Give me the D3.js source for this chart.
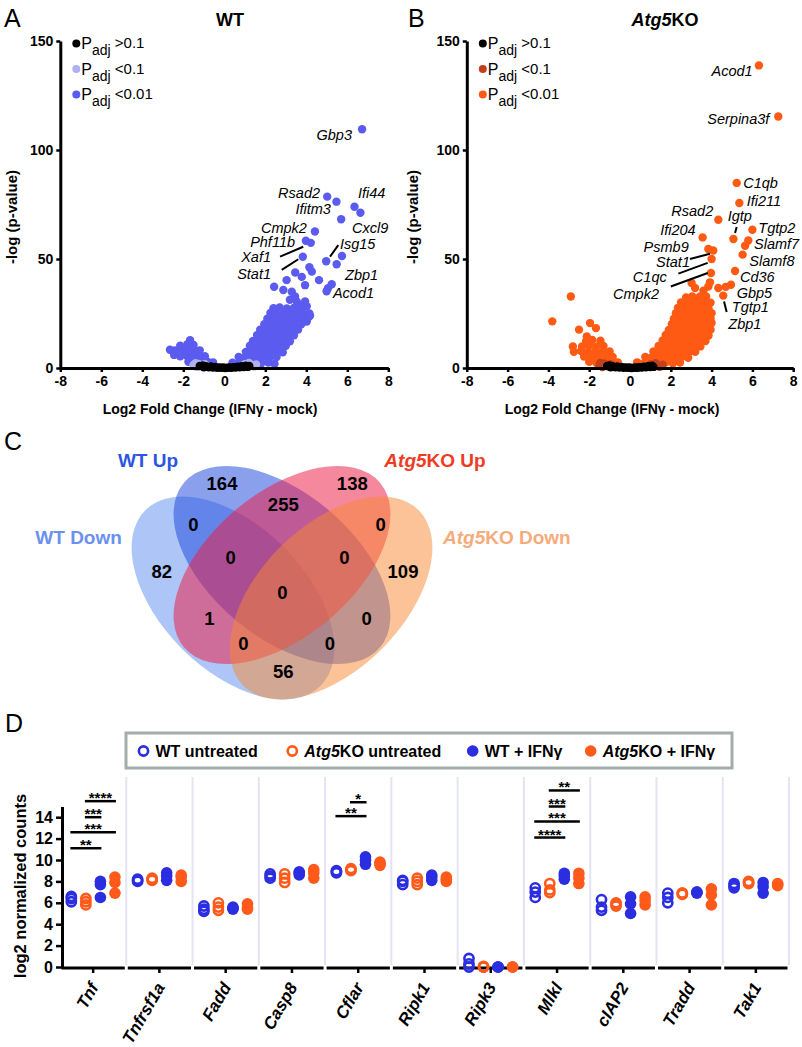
<!DOCTYPE html>
<html>
<head>
<meta charset="utf-8">
<script src="https://cdn.jsdelivr.net/npm/d3@7/dist/d3.min.js"></script>
<style>
html,body{margin:0;padding:0;background:#fff;}
svg{display:block;font-family:"Liberation Sans",Arial,Helvetica,sans-serif;}
</style>
</head>
<body>
<svg id="fig" width="802" height="1047"></svg>
<script>
// ================= Panel A (WT) volcano: [log2FC, -log p] =================
const wtSig = [
 [6.72,109.5],[5.02,78.6],[5.47,76.3],[6.35,74.0],[6.64,71.2],[5.7,68.2],[4.42,62.6],[3.98,58.4],[4.22,57.4],
 [3.83,51.0],[5.74,51.4],[4.97,49.0],[5.48,47.6],[4.15,46.2],[4.27,44.2],[3.46,43.8],[3.78,41.8],[4.62,40.3],
 [3.04,40.3],[3.94,38.0],[5.24,38.4],[5.06,36.6],[4.99,35.2],[2.43,37.3],[2.88,35.8],[3.29,35.0],[3.45,32.8],
 [3.2,31.3],[3.53,30.5],[3.61,29.0],[3.94,30.5],[4.02,28.3],[3.45,26.7],[4.1,23.3],[3.78,23.3],[3.61,22.3],
 [4.02,21.3],[3.69,20.5],[4.18,24.0],
 [0.4,2.4],[0.75,2.7],[1.1,2.3],[1.45,2.6],[1.8,2.2],[2.15,2.5],[2.45,1.9],
 [0.7,5.1],[1.0,4.8],[1.3,5.3],[1.6,4.9],[1.9,5.2],[2.2,4.7],[2.55,5.0],
 [1.05,7.4],[1.35,7.8],[1.65,7.3],[1.95,7.7],[2.25,7.4],[2.55,7.6],[2.85,7.2],
 [1.25,10.2],[1.55,9.8],[1.85,10.3],[2.15,9.9],[2.45,10.1],[2.75,9.7],[3.0,10.2],
 [1.4,12.4],[1.7,12.8],[2.0,12.3],[2.3,12.7],[2.6,12.4],[2.9,12.6],[3.2,12.3],
 [1.6,15.1],[1.9,14.8],[2.2,15.3],[2.5,14.9],[2.8,15.2],[3.1,14.7],[3.4,15.0],
 [1.75,17.6],[2.05,17.3],[2.35,17.8],[2.65,17.4],[2.95,17.7],[3.25,17.3],[3.6,17.6],
 [1.95,20.1],[2.25,19.8],[2.55,20.3],[2.85,19.9],[3.15,20.2],[3.45,19.7],[3.75,20.0],
 [2.1,22.6],[2.4,22.3],[2.7,22.8],[3.0,22.4],[3.3,22.7],[3.95,22.6],
 [2.25,25.2],[2.55,24.8],[2.9,25.3],[3.2,24.9],[3.5,25.1],[3.85,24.7],[4.15,25.0],
 [2.4,27.4],[2.7,27.8],[3.05,27.3],[3.4,27.6],[3.8,27.2],
 [-0.55,2.6],[-0.85,3.1],[-1.15,2.8],[-1.45,3.2],[-1.75,2.9],
 [-0.95,5.4],[-1.25,5.8],[-1.55,5.3],[-1.85,5.7],[-2.15,5.4],[-2.45,6.0],
 [-1.2,8.1],[-1.5,8.4],[-1.8,8.0],[-2.1,8.5],[-2.4,8.1],[-2.65,8.4],
 [-1.5,10.6],[-1.8,10.9],[-2.15,10.2],[-1.67,12.8]
];
const wtMid = [[-1.5,1.4],[-1.35,0.5],[-1.25,1.9],[-1.1,1.0],[-0.95,1.8],[1.0,1.7],[1.15,0.6],[1.3,1.5],[1.45,0.7],[1.55,1.6],[1.2,2.3],[-1.4,2.2]];
const wtNs = [[-1.2,0.9],[-1.05,1.2],[-1.0,0.3],[-0.88,0.8],[-0.75,0.3],[-0.65,0.7],[-0.55,0.2],[-0.45,0.5],[-0.35,0.1],[-0.25,0.3],[-0.15,0.1],[-0.05,0.2],[0.05,0.0],[0.15,0.1],[0.25,0.2],[0.35,0.1],[0.45,0.4],[0.55,0.2],[0.65,0.6],[0.75,0.3],[0.85,0.8],[0.95,0.4],[1.05,1.1],[1.15,0.5],[1.22,0.9]];
const wtGeneLabels = [["Gbp3",6.23,106.9,"end"],["Rsad2",4.67,80.3,"end"],["Ifitm3",5.2,72.9,"end"],["Ifi44",6.52,80.3,"start"],
 ["Cxcl9",6.23,64.2,"start"],["Cmpk2",4.03,64.2,"end"],["Phf11b",3.45,57.8,"end"],["Isg15",5.64,56.9,"start"],
 ["Xaf1",2.28,50.9,"end"],["Stat1",2.28,43.1,"end"],["Zbp1",5.89,42.7,"start"],["Acod1",5.3,34.4,"start"]];
const wtLeaders = [[2.72,51.1,3.85,55.6],[2.8,45.0,3.61,49.9],[5.16,51.1,5.56,56.4]];

// ================= Panel B (Atg5KO) volcano =================
const koSig = [
 [6.32,138.8],[7.27,115.4],[5.23,84.9],[5.36,75.7],[4.33,68.0],[6.0,63.4],[5.07,59.2],[3.56,59.9],[5.8,58.5],
 [5.64,56.1],[5.52,52.0],[3.84,54.6],[4.08,53.9],[4.0,50.0],[3.97,43.6],[5.15,44.5],[3.92,39.3],[3.02,39.0],
 [4.95,38.2],[4.69,37.2],[4.33,36.7],[4.57,33.2],[3.84,37.4],[3.19,36.7],[3.43,32.8],[3.73,32.8],[4.0,20.6],
 [3.76,20.6],[3.95,30.0],[3.6,35.5],
 [-2.9,32.8],[-3.81,21.4],[-1.96,20.6],[-1.67,18.3],[-2.5,17.6],
 [0.35,2.6],[0.7,2.3],[1.05,2.7],[1.4,2.4],[1.75,2.6],[2.1,2.2],[2.45,2.5],
 [0.75,5.1],[1.05,4.8],[1.35,5.2],[1.65,4.9],[1.95,5.3],[2.25,4.8],[2.55,5.1],[2.85,4.7],
 [1.15,7.6],[1.45,7.3],[1.75,7.7],[2.05,7.4],[2.35,7.8],[2.65,7.3],[2.95,7.6],[3.2,7.4],
 [1.4,10.1],[1.7,9.8],[2.0,10.3],[2.3,9.9],[2.6,10.2],[2.9,9.8],[3.2,10.1],[3.45,9.9],
 [1.6,12.6],[1.9,12.3],[2.2,12.7],[2.5,12.4],[2.8,12.8],[3.1,12.3],[3.4,12.6],[3.7,12.4],
 [1.75,15.2],[2.05,14.8],[2.35,15.3],[2.65,14.9],[2.95,15.1],[3.25,14.7],[3.55,15.2],[3.85,14.9],
 [1.9,17.4],[2.2,17.8],[2.5,17.3],[2.8,17.7],[3.1,17.4],[3.4,17.8],[3.7,17.3],[3.95,17.6],
 [2.05,20.2],[2.35,19.8],[2.65,20.3],[2.95,19.9],[3.25,20.1],[3.55,19.7],[3.85,20.2],
 [2.15,22.6],[2.45,22.3],[2.75,22.8],[3.05,22.4],[3.35,22.7],[3.65,22.3],[3.95,22.6],
 [2.25,25.1],[2.55,24.8],[2.85,25.3],[3.15,24.9],[3.45,25.2],[3.75,24.8],[4.0,25.1],
 [2.35,27.6],[2.65,27.3],[2.95,27.8],[3.25,27.4],[3.55,27.7],[3.85,27.3],
 [2.5,30.1],[2.8,29.8],[3.1,30.3],[3.4,29.9],[3.7,30.2],
 [2.75,32.4],[3.05,32.8],[3.4,32.3],
 [-0.6,2.6],[-0.95,2.3],[-1.3,2.7],[-1.65,2.4],[-2.0,2.8],
 [-0.85,5.1],[-1.2,4.8],[-1.55,5.2],[-1.9,4.9],[-2.25,5.3],
 [-1.0,7.6],[-1.35,7.3],[-1.7,7.7],[-2.05,7.4],[-2.4,7.8],[-2.75,7.4],
 [-1.3,10.1],[-1.65,9.8],[-2.0,10.3],[-2.35,9.9],[-2.8,9.9],
 [-1.45,12.5],[-1.85,12.9],[-2.15,12.4],[-2.12,14.5]
];
const koMid = [[-1.5,1.3],[-1.35,0.4],[-1.25,2.0],[-1.1,0.9],[-0.95,1.7],[1.0,1.6],[1.15,0.5],[1.3,1.4],[1.45,0.6],[1.6,1.5],[1.25,2.2],[-1.45,2.3]];
const koNs = [[-1.12,0.9],[-1.0,1.2],[-0.95,0.3],[-0.85,0.8],[-0.72,0.3],[-0.62,0.7],[-0.52,0.2],[-0.42,0.5],[-0.32,0.1],[-0.22,0.3],[-0.12,0.1],[-0.02,0.2],[0.08,0.0],[0.18,0.1],[0.28,0.2],[0.38,0.1],[0.48,0.4],[0.58,0.2],[0.68,0.6],[0.78,0.3],[0.88,0.8],[0.98,0.4],[1.08,1.0],[1.15,0.5]];
const koGeneLabels = [["Acod1",6.01,136.1,"end"],["Serpina3f",6.83,114.2,"end"],["C1qb",5.55,85.0,"start"],["Ifi211",5.72,76.7,"start"],
 ["Rsad2",4.08,72.2,"end"],["Igtp",4.79,69.5,"start"],["Tgtp2",6.29,64.4,"start"],["Ifi204",3.22,63.1,"end"],
 ["Slamf7",6.08,56.9,"start"],["Psmb9",2.88,55.3,"end"],["Slamf8",5.85,49.3,"start"],["Stat1",2.94,48.4,"end"],
 ["Cd36",5.39,41.6,"start"],["C1qc",1.8,41.6,"end"],["Gbp5",5.23,34.6,"start"],["Cmpk2",1.42,33.8,"end"],
 ["Tgtp1",4.99,27.8,"start"],["Zbp1",4.82,20.0,"start"]];
const koLeaders = [[5.15,61.9,5.23,64.7],[2.94,50.0,3.92,52.4],[2.37,43.3,3.81,48.2],[2.0,37.4,3.81,43.6],[4.61,30.5,4.74,25.7]];

const volcanoXTicks = [-8,-6,-4,-2,0,2,4,6,8];
const volcanoYTicks = [0,50,100,150];
const padjLabels = [">0.1","<0.1","<0.01"];

// ================= Panel C (Venn) =================
const vennSets = ["WT Down","WT Up","Atg5KO Up","Atg5KO Down"];
const vennCounts = [164,138,82,109,255,0,0,0,0,0,1,0,0,0,56];

// ================= Panel D =================
const genes = ["Tnf","Tnfrsf1a","Fadd","Casp8","Cflar","Ripk1","Ripk3","Mlkl","cIAP2","Tradd","Tak1"];
const groups = ["WT untreated","Atg5KO untreated","WT + IFNγ","Atg5KO + IFNγ"];
const wtUntreated = [[6.1,6.4,6.6],[8.0,8.1,8.2],[5.2,5.4,5.7],[8.3,8.5,8.7],[8.8,8.9,9.0],[7.7,8.0,8.1],[0.0,0.3,0.8],[6.5,7.0,7.4],[5.3,5.6,6.3],[6.0,6.5,6.9],[7.4,7.6,7.8]];
const koUntreated = [[5.8,6.1,6.4],[8.1,8.2,8.3],[5.3,5.6,6.0],[7.9,8.3,8.7],[9.0,9.1,9.2],[7.7,8.0,8.3],[0.0,0.0,0.05],[6.95,7.2,7.8],[5.7,5.9,6.0],[6.8,6.9,6.9],[7.8,7.9,8.0]];
const wtIfng = [[6.5,7.7,8.0],[8.1,8.5,8.8],[5.4,5.5,5.6],[8.6,8.8,8.9],[9.6,10.0,10.3],[8.1,8.4,8.6],[0.0,0.0,0.0],[8.2,8.5,8.75],[5.0,5.9,6.55],[6.9,7.0,7.0],[6.9,7.5,7.9]];
const koIfng = [[6.9,7.9,8.4],[8.0,8.4,8.6],[5.4,5.6,5.9],[8.3,8.8,9.1],[9.5,9.7,9.8],[8.0,8.2,8.4],[0.0,0.0,0.0],[7.8,8.3,8.75],[5.8,6.2,6.55],[5.8,6.75,7.3],[7.6,7.75,7.8]];
const countTicks = [0,2,4,6,8,10,12,14];
// [gene, fromGroup, toGroup, bar height (log2 counts), label]
const sigBars = [
 ["Tnf",1,3,15.5,"****"],["Tnf",1,2,14.0,"***"],["Tnf",0,3,12.6,"***"],["Tnf",0,2,11.1,"**"],
 ["Cflar",1,2,15.4,"*"],["Cflar",0,2,14.1,"**"],
 ["Mlkl",1,3,16.5,"**"],["Mlkl",1,2,15.0,"***"],["Mlkl",0,3,13.6,"***"],["Mlkl",0,2,12.1,"****"]
];

// ================= drawing =================
const F = "'Liberation Sans', Arial, Helvetica, sans-serif";
const svg = d3.select("#fig");

function panelLetter(t, x, y) {
  svg.append("text").attr("x", x).attr("y", y).attr("font-size", 25).attr("font-family", F).text(t);
}

function volcano(o) {
  const g = svg.append("g").attr("font-family", F);
  const x = d3.scaleLinear().domain([-8, 8]).range(o.xr);
  const y = d3.scaleLinear().domain([0, 150]).range([368, 41]);
  [[o.sig, o.colors[2]], [o.mid, o.colors[1]], [o.ns, o.colors[0]]].forEach(([arr, c]) => {
    g.append("g").selectAll("circle").data(arr).join("circle")
      .attr("cx", d => x(d[0])).attr("cy", d => y(d[1])).attr("r", 4.2).attr("fill", c);
  });
  const ax = g.append("g").attr("transform", `translate(0,${y(0)})`)
    .call(d3.axisBottom(x).tickValues(volcanoXTicks).tickSize(4).tickSizeOuter(0).tickPadding(4).tickFormat(d => String(d)));
  const ay = g.append("g").attr("transform", `translate(${o.xr[0]},0)`)
    .call(d3.axisLeft(y).tickValues(volcanoYTicks).tickSize(4).tickSizeOuter(0).tickPadding(3).tickFormat(d => String(d)));
  [ax, ay].forEach(a => {
    a.select(".domain").attr("stroke", "#000").attr("stroke-width", 3);
    a.selectAll(".tick line").attr("stroke", "#000").attr("stroke-width", 2.5);
    a.selectAll(".tick text").attr("font-family", F).attr("font-size", 14).attr("font-weight", "bold").attr("fill", "#000");
  });
  // legend
  padjLabels.forEach((t, i) => {
    const cy = 43.5 + i * 25.5;
    g.append("circle").attr("cx", o.xr[0] + 16).attr("cy", cy).attr("r", 4).attr("fill", o.colors[i]);
    const tx = g.append("text").attr("x", o.xr[0] + 21).attr("y", cy + 5.5).attr("font-size", 16);
    tx.append("tspan").text("P");
    tx.append("tspan").attr("font-size", 14).attr("dy", 6).text("adj");
    tx.append("tspan").attr("font-size", 15).attr("dy", -7).text(" " + t);
  });
  // labels & leaders
  o.labels.forEach(([name, lx, ly, anc]) => {
    g.append("text").attr("x", x(lx)).attr("y", y(ly)).attr("text-anchor", anc)
      .attr("dominant-baseline", "central").attr("font-style", "italic").attr("font-size", 14.5).text(name);
  });
  o.leaders.forEach(([x1, y1, x2, y2]) => {
    g.append("line").attr("x1", x(x1)).attr("y1", y(y1)).attr("x2", x(x2)).attr("y2", y(y2))
      .attr("stroke", "#000").attr("stroke-width", 2);
  });
  // titles
  const tt = g.append("text").attr("x", o.titleX).attr("y", 26).attr("text-anchor", "middle")
    .attr("font-size", 18).attr("font-weight", "bold");
  o.title.forEach(([s, it]) => tt.append("tspan").attr("font-style", it ? "italic" : "normal").text(s));
  g.append("text").attr("x", o.xTitleX).attr("y", 414).attr("text-anchor", "middle")
    .attr("font-size", 14).attr("font-weight", "bold").text("Log2 Fold Change (IFNγ - mock)");
  g.append("text").attr("transform", `translate(${o.yTitleX},217) rotate(-90)`).attr("text-anchor", "middle")
    .attr("font-size", 15).attr("font-weight", "bold").text("-log (p-value)");
}

panelLetter("A", 4, 27);
panelLetter("B", 408, 27);
volcano({xr: [60.3, 388.3], sig: wtSig, mid: wtMid, ns: wtNs, colors: ["#000000", "#b1b1f2", "#5b5bef"],
  labels: wtGeneLabels, leaders: wtLeaders, title: [["WT", false]], titleX: 230, xTitleX: 210, yTitleX: 17});
volcano({xr: [466.8, 793.2], sig: koSig, mid: koMid, ns: koNs, colors: ["#000000", "#c2401c", "#ff5a14"],
  labels: koGeneLabels, leaders: koLeaders, title: [["Atg5", true], ["KO", false]], titleX: 665, xTitleX: 612, yTitleX: 418});

// ---------------- Panel C ----------------
panelLetter("C", 4, 450);
const vennLayout = {
  "WT Down":     {cx: 233, cy: 598, rx: 124, ry: 72, rot: 45, fill: "#5b8def", op: 0.5, lx: 78.6, ly: 544, anchor: "middle", color: "#6b90ef"},
  "WT Up":       {cx: 282, cy: 565, rx: 128, ry: 72, rot: 40, fill: "#1f48dc", op: 0.52, lx: 148, ly: 467, anchor: "middle", color: "#2d55e2"},
  "Atg5KO Up":   {cx: 282, cy: 565, rx: 128, ry: 72, rot: -40, fill: "#ee1a45", op: 0.52, lx: 435, ly: 467, anchor: "middle", color: "#ee3b24"},
  "Atg5KO Down": {cx: 331, cy: 598, rx: 124, ry: 72, rot: -45, fill: "#f88830", op: 0.5, lx: 443, ly: 544, anchor: "start", color: "#f7ab7b"}
};
const vennPos = [[222,483],[352.3,483],[161.7,571.7],[403,571.7],[283.3,504.3],[193.3,524.3],[380.7,524.3],
  [230.7,557.7],[344.3,557.7],[282.3,592.3],[209.3,618.3],[366.7,618.3],[243.3,643.3],[330,643.3],[283.3,671.7]];
const vg = svg.append("g").attr("font-family", F);
vg.selectAll("ellipse").data(vennSets).join("ellipse")
  .attr("transform", d => `translate(${vennLayout[d].cx},${vennLayout[d].cy}) rotate(${vennLayout[d].rot})`)
  .attr("rx", d => vennLayout[d].rx).attr("ry", d => vennLayout[d].ry)
  .attr("fill", d => vennLayout[d].fill).attr("fill-opacity", d => vennLayout[d].op);
vg.selectAll("text.cnt").data(vennCounts).join("text").attr("class", "cnt")
  .attr("x", (d, i) => vennPos[i][0]).attr("y", (d, i) => vennPos[i][1] + 6.5)
  .attr("text-anchor", "middle").attr("font-size", 18.5).attr("font-weight", "bold").text(d => d);
vennSets.forEach(s => {
  const L = vennLayout[s];
  const t = vg.append("text").attr("x", L.lx).attr("y", L.ly).attr("text-anchor", L.anchor)
    .attr("font-size", 19).attr("font-weight", "bold").attr("fill", L.color);
  if (s.startsWith("Atg5")) {
    t.append("tspan").attr("font-style", "italic").text("Atg5");
    t.append("tspan").text(s.slice(4));
  } else t.text(s);
});

// ---------------- Panel D ----------------
panelLetter("D", 5, 732);
const dg = svg.append("g").attr("font-family", F);
const xb = d3.scaleBand().domain(genes).range([60, 789]);
const sub = d3.scalePoint().domain([0, 1, 2, 3]).range([-21.8, 21.8]);
const yc = d3.scaleLinear().domain([0, 15]).range([967, 806.5]);
const BLUE = "#2b2ee0", ORANGE = "#ff5a1a";
const groupStyle = [{c: BLUE, open: true}, {c: ORANGE, open: true}, {c: BLUE, open: false}, {c: ORANGE, open: false}];
const groupData = [wtUntreated, koUntreated, wtIfng, koIfng];
const cx = (gene, gi) => xb(gene) + xb.bandwidth() / 2 + sub(gi);

// separators
dg.selectAll("line.sep").data(genes).join("line").attr("class", "sep")
  .attr("x1", d => xb(d) + xb.bandwidth()).attr("x2", d => xb(d) + xb.bandwidth())
  .attr("y1", 777).attr("y2", 965).attr("stroke", "#e3e3f6").attr("stroke-width", 2);

// baseline segments and ticks
dg.selectAll("line.base").data(genes).join("line").attr("class", "base")
  .attr("x1", d => xb(d) + 1.5).attr("x2", d => xb(d) + xb.bandwidth() - 1.5)
  .attr("y1", yc(0) + 1).attr("y2", yc(0) + 1).attr("stroke", "#000").attr("stroke-width", 3);
dg.selectAll("line.xt").data(genes).join("line").attr("class", "xt")
  .attr("x1", d => xb(d) + xb.bandwidth() / 2).attr("x2", d => xb(d) + xb.bandwidth() / 2)
  .attr("y1", yc(0)).attr("y2", yc(0) + 6).attr("stroke", "#000").attr("stroke-width", 2.5);

// y axis
const yax = dg.append("g").attr("transform", "translate(62,0)")
  .call(d3.axisLeft(yc).tickValues(countTicks).tickSize(6).tickSizeOuter(0).tickPadding(3));
yax.select(".domain").attr("stroke", "#000").attr("stroke-width", 3);
yax.selectAll(".tick line").attr("stroke", "#000").attr("stroke-width", 2.5);
yax.selectAll(".tick text").attr("font-family", F).attr("font-size", 16).attr("font-weight", "bold").attr("fill", "#000");
dg.append("text").attr("transform", "translate(26,886) rotate(-90)").attr("text-anchor", "middle")
  .attr("font-size", 16.5).attr("font-weight", "bold").text("log2 normalized counts");

// points
groupData.forEach((arr, gi) => {
  const st = groupStyle[gi];
  const pts = [];
  arr.forEach((vals, k) => vals.forEach(v => pts.push({gene: genes[k], v})));
  dg.append("g").selectAll("circle").data(pts).join("circle")
    .attr("cx", d => cx(d.gene, gi)).attr("cy", d => yc(d.v))
    .attr("r", st.open ? 4.6 : 5.8)
    .attr("fill", st.open ? "none" : st.c)
    .attr("stroke", st.open ? st.c : "none").attr("stroke-width", 2.6);
});

// x labels
dg.selectAll("text.xl").data(genes).join("text").attr("class", "xl")
  .attr("transform", d => `translate(${xb(d) + xb.bandwidth() / 2 + 6},987) rotate(-60)`)
  .attr("text-anchor", "end").attr("font-size", 17).attr("font-weight", "bold").attr("font-style", "italic").text(d => d);

// significance bars
sigBars.forEach(([gene, a, b, h, s]) => {
  const x1 = cx(gene, a) - 1, x2 = cx(gene, b) + 1, yy = yc(h);
  dg.append("text").attr("x", (x1 + x2) / 2).attr("y", yy + 2).attr("text-anchor", "middle")
    .attr("font-size", 15).attr("font-weight", "bold").text(s);
  dg.append("line").attr("x1", x1).attr("x2", x2).attr("y1", yy).attr("y2", yy).attr("stroke", "#000").attr("stroke-width", 2.5);
});

// legend
dg.append("rect").attr("x", 126).attr("y", 733).attr("width", 606).attr("height", 35)
  .attr("fill", "#fff").attr("stroke", "#a3aeab").attr("stroke-width", 3);
const legX = [143.5, 292.3, 472.7, 590.7];
groups.forEach((name, gi) => {
  const st = groupStyle[gi];
  dg.append("circle").attr("cx", legX[gi]).attr("cy", 751).attr("r", st.open ? 4.6 : 5.8)
    .attr("fill", st.open ? "none" : st.c).attr("stroke", st.open ? st.c : "none").attr("stroke-width", 2.6);
  const t = dg.append("text").attr("x", legX[gi] + 12).attr("y", 757).attr("font-size", 16).attr("font-weight", "bold");
  if (name.startsWith("Atg5")) {
    t.append("tspan").attr("font-style", "italic").text("Atg5");
    t.append("tspan").text(name.slice(4));
  } else t.text(name);
});
</script>
</body>
</html>
